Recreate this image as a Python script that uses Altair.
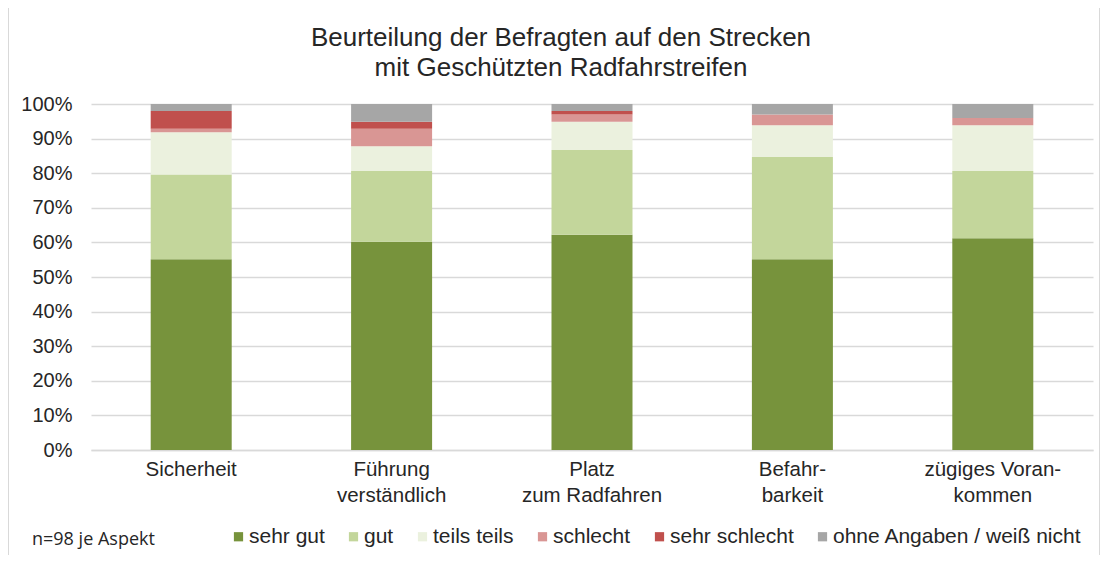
import altair as alt
import pandas as pd

aspects = ["Sicherheit", "Führung|verständlich", "Platz|zum Radfahren", "Befahr-|barkeit", "zügiges Voran-|kommen"]
ratings = ["sehr gut", "gut", "teils teils", "schlecht", "sehr schlecht", "ohne Angaben / weiß nicht"]
colors = ["#77933C", "#C3D69B", "#EBF1DE", "#D99694", "#C0504D", "#A6A6A6"]

sehr_gut = [54, 59, 61, 54, 60]
gut = [24, 20, 24, 29, 19]
teils_teils = [12, 7, 8, 9, 13]
schlecht = [1, 5, 2, 3, 2]
sehr_schlecht = [5, 2, 1, 0, 0]
ohne_angaben = [2, 5, 2, 3, 4]

series = [sehr_gut, gut, teils_teils, schlecht, sehr_schlecht, ohne_angaben]
rows = []
for ri, (r, vals) in enumerate(zip(ratings, series)):
    for a, v in zip(aspects, vals):
        rows.append({"Aspekt": a, "Bewertung": r, "n": v, "ord": ri})
df = pd.DataFrame(rows)

FONT = "Liberation Sans"
TXT = "#262626"

bars = alt.Chart(df).mark_bar(size=81).encode(
    x=alt.X("Aspekt:N", sort=aspects, title=None,
            axis=alt.Axis(labelExpr="split(datum.label, '|')", labelAngle=0,
                          labelFontSize=20.5, labelFont=FONT, labelColor=TXT,
                          labelLineHeight=26, labelPadding=9, ticks=False,
                          domain=True, domainColor="#D9D9D9", domainWidth=1.5,
                          labelBaseline="top", labelLimit=300)),
    y=alt.Y("n:Q", stack="normalize", title=None,
            axis=alt.Axis(format=".0%", values=[i / 10 for i in range(11)],
                          labelFontSize=20, labelFont=FONT, labelColor=TXT,
                          labelPadding=19, ticks=False, domain=False,
                          gridColor="#D9D9D9", gridWidth=1.5)),
    color=alt.Color("Bewertung:N", sort=ratings,
                    scale=alt.Scale(domain=ratings, range=colors),
                    legend=alt.Legend(title=None, orient="none", direction="horizontal",
                                      legendX=137, legendY=422,
                                      symbolType="square", symbolSize=85,
                                      symbolStrokeWidth=0, labelFontSize=21,
                                      labelFont=FONT, labelColor=TXT, labelLimit=400,
                                      labelOffset=0, columnPadding=18)),
    order=alt.Order("ord:Q"),
)

frame = alt.Chart(pd.DataFrame({"f": [0]})).mark_rect(
    fill=None, stroke="#D9D9D9", strokeWidth=2
).encode(
    x=alt.value(-83), x2=alt.value(1009), y=alt.value(-98), y2=alt.value(480)
)

note = alt.Chart(pd.DataFrame({"t": ["n=98 je Aspekt"]})).mark_text(
    align="left", baseline="middle", fontSize=18, font="Open Sans", color=TXT
).encode(text="t:N", x=alt.value(-59), y=alt.value(436))

chart = alt.layer(bars, frame, note).properties(
    width=1002, height=346,
    title=alt.TitleParams(
        text=["Beurteilung der Befragten auf den Strecken", "mit Geschützten Radfahrstreifen"],
        fontSize=26, font=FONT, fontWeight="normal", color=TXT,
        anchor="middle", dx=-31, offset=-76, lineHeight=30
    ),
    autosize=alt.AutoSizeParams(type="none"),
    padding={"left": 83, "top": 96, "right": 7, "bottom": 105},
).configure_view(stroke=None)

chart.save("out.html", embed_options={"renderer": "svg", "actions": False})
